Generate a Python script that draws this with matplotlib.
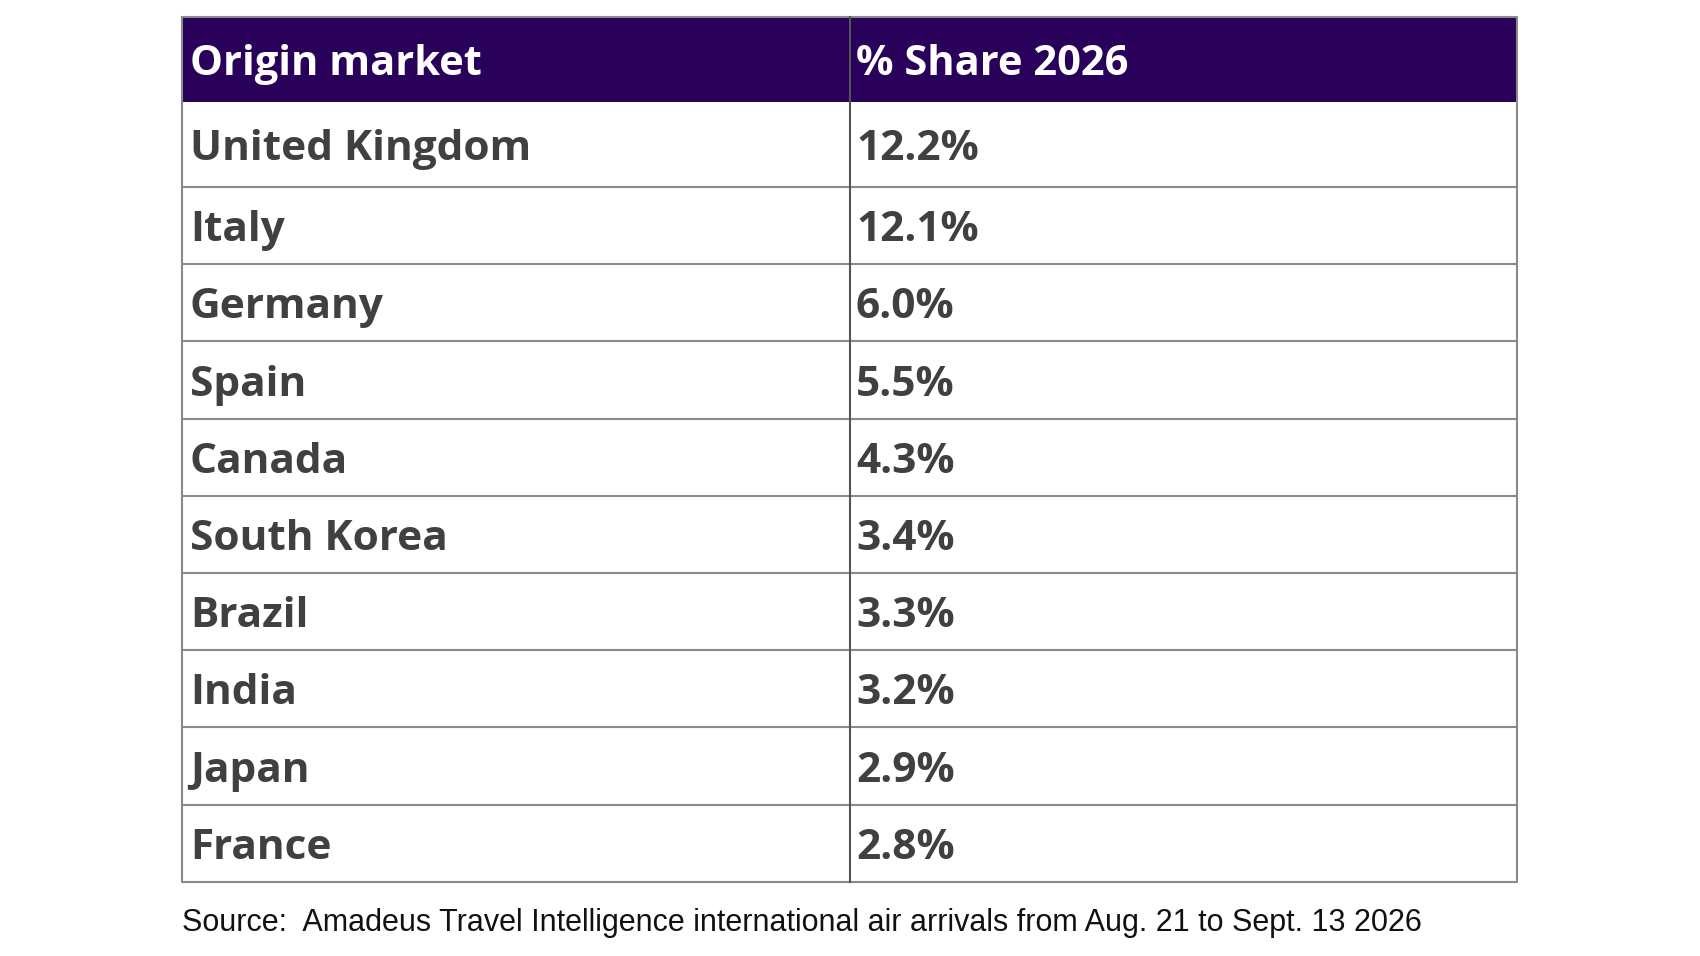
import matplotlib
matplotlib.use('Agg')
from matplotlib import pyplot as plt
from matplotlib.patches import Rectangle

# table content
header = ['Origin market', '% Share 2026']
markets = ['United Kingdom', 'Italy', 'Germany', 'Spain', 'Canada',
           'South Korea', 'Brazil', 'India', 'Japan', 'France']
share = [12.2, 12.1, 6.0, 5.5, 4.3, 3.4, 3.3, 3.2, 2.9, 2.8]
source = 'Source:  Amadeus Travel Intelligence international air arrivals from Aug. 21 to Sept. 13 2026'

W, H = 1700, 956
left, right, split = 182, 1517, 850
top = 17
head_h = 85
first_h = 85
row_h = 77.2
pad_l, pad_r = 8, 6
dy = 5  # nudge text down, va='center' counts descenders

purple = '#29005a'
text_col = '#404040'
line_col = '#8a8a8a'

fig = plt.figure(figsize=(W / 100, H / 100), dpi=100)
ax = fig.add_axes([0, 0, 1, 1])
ax.set_xlim(0, W)
ax.set_ylim(H, 0)
ax.axis('off')

# header
ax.add_patch(Rectangle((left, top), right - left, head_h, facecolor=purple, edgecolor='none'))
for x0, txt in zip([left + pad_l, split + pad_r], header):
    ax.text(x0, top + head_h / 2 + dy, txt, color='white', fontsize=30,
            fontweight='bold', family='Open Sans', va='center', ha='left')

# rows
edges = [top + head_h, top + head_h + first_h]
for _ in markets[1:]:
    edges.append(edges[-1] + row_h)
bottom = edges[-1]

for i, (m, s) in enumerate(zip(markets, share)):
    yc = (edges[i] + edges[i + 1]) / 2 + dy
    ax.text(left + pad_l, yc, m, color=text_col, fontsize=30.5, fontweight='bold',
            family='Open Sans', va='center', ha='left')
    ax.text(split + pad_r, yc, f'{s:.1f}%', color=text_col, fontsize=30.5, fontweight='bold',
            family='Open Sans', va='center', ha='left')

for y in edges[1:-1]:
    ax.plot([left, right], [y, y], color=line_col, lw=1.5, solid_capstyle='butt')
ax.plot([left, right, right, left, left], [top, top, bottom, bottom, top],
        color=line_col, lw=1.5)
ax.plot([split, split], [top, bottom], color='#555555', lw=1.5)

ax.text(left, 923, source, color='#111111', fontsize=22, family='Liberation Sans',
        va='center', ha='left')

fig.savefig('out.png', dpi=100)
